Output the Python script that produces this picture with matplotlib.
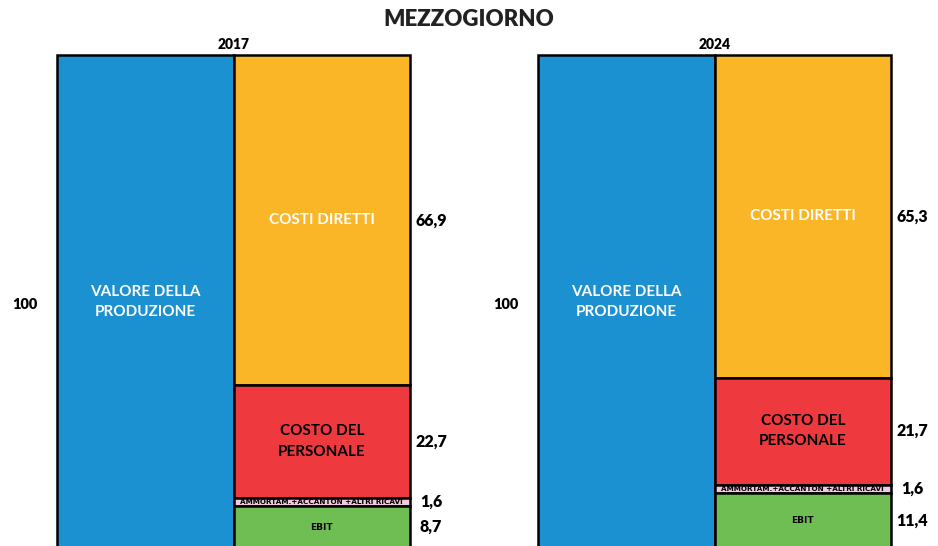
import matplotlib.pyplot as plt

years = ["2017", "2024"]
valore = [100, 100]
voci = ["COSTI DIRETTI", "COSTO DEL\nPERSONALE", "AMMORTAM.+ACCANTON +ALTRI RICAVI", "EBIT"]
costi_2017 = [66.9, 22.7, 1.6, 8.7]
costi_2024 = [65.3, 21.7, 1.6, 11.4]
costi = [costi_2017, costi_2024]

colori = ["#FBB627", "#EE3A3E", "#F2C9DE", "#6EBE54"]
col_testo = ["white", "black", "black", "black"]
blu = "#1B91D1"

plt.rcParams['font.family'] = ['Lato', 'DejaVu Sans']

fig = plt.figure(figsize=(9.38, 5.46), dpi=100)
fig.text(0.5, 0.965, "MEZZOGIORNO", ha='center', va='center', fontsize=16, fontweight='heavy', color='#222222')

W, H = 938, 546
lefts = [57, 538]
for i, anno in enumerate(years):
    x0 = lefts[i] / W
    ax = fig.add_axes([x0, 1 - 549 / H, 353 / W, 494 / H])
    ax.set_xlim(0, 2)
    ax.set_ylim(100, 0)
    ax.axis('off')
    ax.set_title(anno, fontsize=10, fontweight='heavy', pad=4)

    # barra del valore della produzione
    ax.bar(0, valore[i], width=1, bottom=0, align='edge', color=blu, edgecolor='black', linewidth=1.8)
    ax.text(0.5, valore[i] / 2, "VALORE DELLA\nPRODUZIONE", ha='center', va='center',
            color='white', fontsize=11, fontweight='bold', linespacing=1.6)
    ax.text(-0.18, valore[i] / 2 + 0.5, str(valore[i]), ha='center', va='center',
            fontsize=10.5, fontweight='heavy')

    # scomposizione dei costi
    base = 0
    for j, v in enumerate(costi[i]):
        ax.bar(1, v, width=1, bottom=base, align='edge', color=colori[j], edgecolor='black', linewidth=1.8)
        mid = base + v / 2
        if j == 2:
            ax.text(1.5, mid, voci[j], ha='center', va='center', fontsize=5.2, fontweight='bold',
                    color=col_testo[j], family='DejaVu Sans')
        elif j == 3:
            ax.text(1.5, mid, voci[j], ha='center', va='center', fontsize=6.5, fontweight='bold',
                    color=col_testo[j], family='DejaVu Sans')
        else:
            ax.text(1.5, mid, voci[j], ha='center', va='center', fontsize=11, fontweight='bold',
                    color=col_testo[j], linespacing=1.6)
        ax.text(2.12, mid, f"{v:.1f}".replace('.', ','), ha='center', va='center',
                fontsize=11.5, fontweight='heavy')
        base += v
    for a in ax.patches:
        a.set_clip_on(False)

fig.savefig("out.png", dpi=100)
